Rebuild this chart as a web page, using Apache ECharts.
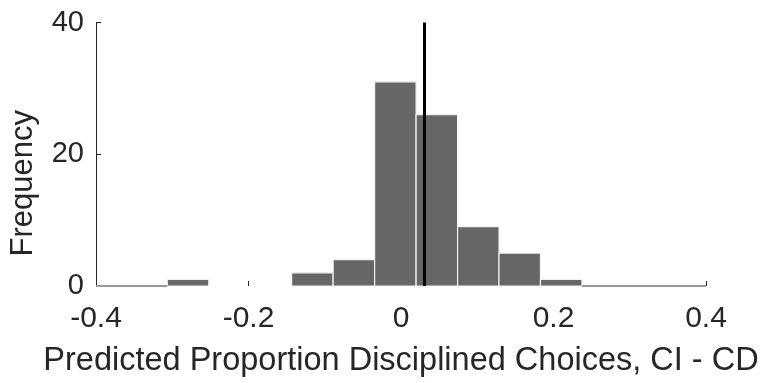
<!DOCTYPE html>
<html>
<head>
<meta charset="utf-8">
<script src="https://cdn.jsdelivr.net/npm/echarts@6/dist/echarts.min.js"></script>
<style>
  html, body { margin: 0; padding: 0; background: #fff; }
  #chart { width: 765px; height: 383px; }
</style>
</head>
<body>
<div id="chart"></div>
<script>
// histogram bins (left edges) and counts
const binWidth = 0.0544
const binStarts = [-0.3065, -0.2521, -0.1977, -0.1434, -0.089, -0.0346, 0.0198, 0.0742, 0.1285, 0.1829]
const counts = [1, 0, 0, 2, 4, 31, 26, 9, 5, 1]
// empty stretches drawn as flat grey edges on the baseline
const emptySpans = [[-0.4, -0.3065], [0.2373, 0.4]]
const meanValue = 0.0293
const xTicks = [-0.4, -0.2, 0, 0.2, 0.4]
const yTicks = [0, 20, 40]

const chart = echarts.init(document.getElementById('chart'))

const barData = binStarts.map((s, i) => [s, s + binWidth, counts[i]])
  .filter((d) => d[2] > 0)

const option = {
  animation: false,
  grid: { left: 96, right: 59, top: 22.5, bottom: 93.5 },
  xAxis: {
    type: 'value',
    min: xTicks[0],
    max: xTicks[xTicks.length - 1],
    interval: 0.2,
    axisLine: { show: false },
    axisTick: { show: true, inside: true, length: 5, lineStyle: { color: '#262626' } },
    splitLine: { show: false },
    axisLabel: {
      color: '#262626', fontFamily: 'Liberation Sans', fontSize: 30, margin: 18,
      formatter: (v) => String(Math.round(v * 10) / 10)
    },
    name: 'Predicted Proportion Disciplined Choices, CI - CD',
    nameLocation: 'middle',
    nameGap: 59,
    nameTextStyle: { color: '#262626', fontFamily: 'Liberation Sans', fontSize: 32.5 }
  },
  yAxis: {
    type: 'value',
    min: yTicks[0],
    max: yTicks[yTicks.length - 1],
    interval: 20,
    axisLine: { show: true, onZero: false, lineStyle: { color: '#262626', width: 1 } },
    axisTick: { show: true, inside: true, length: 5, lineStyle: { color: '#262626' } },
    splitLine: { show: false },
    axisLabel: { color: '#262626', fontFamily: 'Liberation Sans', fontSize: 29, margin: 12 }
  },
  graphic: [{
    type: 'text',
    left: 8,
    top: 110,
    rotation: Math.PI / 2,
    style: {
      text: 'Frequency',
      fill: '#262626',
      font: '31px "Liberation Sans"'
    }
  }],
  series: [
    {
      type: 'custom',
      data: barData,
      renderItem: (params, api) => {
        const p0 = api.coord([api.value(0), api.value(2)])
        const p1 = api.coord([api.value(1), 0])
        return {
          type: 'rect',
          shape: { x: p0[0], y: p0[1], width: p1[0] - p0[0], height: p1[1] - p0[1] },
          style: { fill: '#666666', stroke: '#f2f2f2', lineWidth: 1.2 }
        }
      },
      markLine: {
        silent: true,
        symbol: 'none',
        label: { show: false },
        lineStyle: { color: '#000', width: 3, type: 'solid' },
        data: [{ xAxis: meanValue }]
      },
      z: 2
    },
    {
      type: 'custom',
      data: emptySpans,
      renderItem: (params, api) => {
        const p0 = api.coord([api.value(0), 0])
        const p1 = api.coord([api.value(1), 0])
        return {
          type: 'line',
          shape: { x1: p0[0], y1: p0[1], x2: p1[0], y2: p1[1] },
          style: { stroke: '#9a9a9a', lineWidth: 2 }
        }
      },
      z: 3
    }
  ]
}

chart.setOption(option)
</script>
</body>
</html>
